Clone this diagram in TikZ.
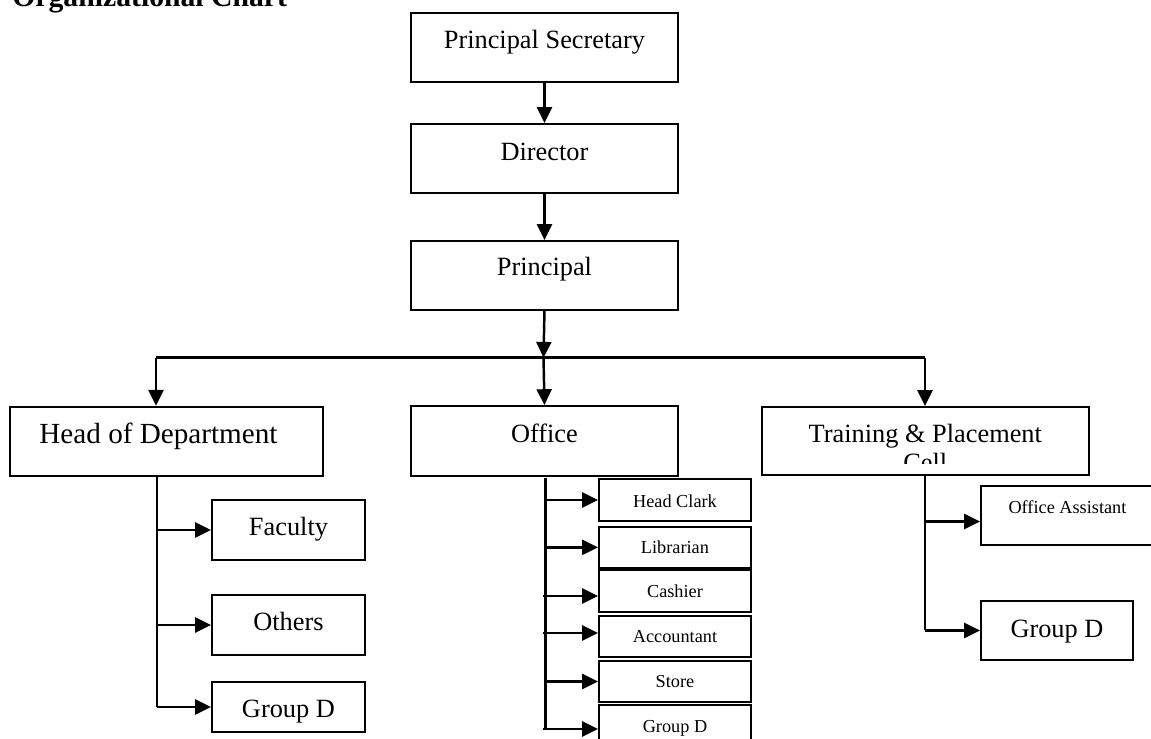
\documentclass[tikz,border=0pt]{standalone}
\usepackage{fontspec}
\setmainfont{Liberation Serif}
\usetikzlibrary{arrows.meta,calc}
\newdimen\px
\px=0.02cm
\tikzset{
  box/.style={draw, line width=1.1pt, rectangle, inner sep=0pt, anchor=north west},
  conn/.style={line width=1.4pt},
  arr/.style={conn, -{Triangle[length=9pt,width=8.5pt]}},
  bigtxt/.style={font=\fontsize{15}{18}\selectfont, anchor=base, inner sep=0pt},
  hugetxt/.style={font=\fontsize{16.6}{20}\selectfont, anchor=base, inner sep=0pt},
  smalltxt/.style={font=\fontsize{10.4}{12.5}\selectfont, anchor=base, inner sep=0pt}
}
\begin{document}
\begin{tikzpicture}[x=0.02cm,y=-0.02cm]
\useasboundingbox (0,0) rectangle (1151,738);
% title
\node[anchor=base west, inner sep=0pt, font=\bfseries\fontsize{16.9}{20}\selectfont] (title) at (12,6) {Organizational Chart};
% top chain
\node[box, minimum width=267\px, minimum height=69.3\px] (ps) at (410,11.7) {};
\path (ps.north) ++(0,36.5) node[bigtxt] (pst) {Principal Secretary};
\node[box, minimum width=267\px, minimum height=69\px] (dir) at (410,123) {};
\path (dir.north) ++(0,37) node[bigtxt] (dirt) {Director};
\node[box, minimum width=267\px, minimum height=69\px] (prin) at (410,240) {};
\path (prin.north) ++(0,35.5) node[bigtxt] (print) {Principal};
\draw[arr] (ps.south) -- (dir.north);
\draw[arr] (dir.south) -- (prin.north);
% distribution
\coordinate (j) at (543.5,357.7);
\coordinate (jl) at (156,357.7);
\coordinate (jr) at (925,357.7);
\draw[arr] (prin.south) -- (j);
\draw[conn] (jl) -- (jr);
% second level
\node[box, minimum width=313\px, minimum height=69.3\px] (hod) at (9,405.7) {};
\path (hod.north) ++(-8,37.5) node[hugetxt] (hodt) {Head of Department};
\node[box, minimum width=267\px, minimum height=70\px] (office) at (410,405) {};
\path (office.north) ++(0,37) node[bigtxt] (officet) {Office};
\node[box, minimum width=327.3\px, minimum height=68\px] (tp) at (760.7,406) {};
\begin{scope}
  \clip (760,406) rectangle (1089,463.3);
  \path (tp.north) ++(0,36.7) node[bigtxt] (tpt1) {Training \& Placement};
  \path (tp.north) ++(0,65) node[bigtxt] (tpt2) {Cell};
\end{scope}
\draw[arr] (jl) -- (jl |- hod.north);
\draw[arr] (j) -- (office.north);
\draw[arr] (jr) -- (jr |- tp.north);
% Head of Department branch
\coordinate (hx) at (157,475);
\node[box, minimum width=153\px, minimum height=60\px] (fac) at (211,499) {};
\path (fac.north) ++(0,36.7) node[bigtxt] (fact) {Faculty};
\node[box, minimum width=153\px, minimum height=60\px] (oth) at (211,594) {};
\path (oth.north) ++(0,36.7) node[bigtxt] (otht) {Others};
\node[box, minimum width=153\px, minimum height=50\px] (hgd) at (211,681) {};
\path (hgd.north) ++(0,36.7) node[bigtxt] (hgdt) {Group D};
\draw[conn] (hx) -- (hx |- hgd.west);
\draw[arr] (hx |- fac.west) -- (fac.west);
\draw[arr] (hx |- oth.west) -- (oth.west);
\draw[arr] (hx |- hgd.west) -- (hgd.west);
% Office branch
\coordinate (ox) at (545.7,478);
\node[box, minimum width=152\px, minimum height=42\px] (hc) at (598,478) {};
\path (hc.north) ++(0,29) node[smalltxt] (hct) {Head Clark};
\node[box, minimum width=152\px, minimum height=41.3\px] (lib) at (598,525.7) {};
\path (lib.north) ++(0,27.5) node[smalltxt] (libt) {Librarian};
\node[box, minimum width=152\px, minimum height=42\px] (cash) at (598,569) {};
\path (cash.north) ++(0,28) node[smalltxt] (casht) {Cashier};
\node[box, minimum width=152\px, minimum height=41\px] (acc) at (598,615) {};
\path (acc.north) ++(0,27.5) node[smalltxt] (acct) {Accountant};
\node[box, minimum width=152\px, minimum height=41\px] (store) at (598,660) {};
\path (store.north) ++(0,27.5) node[smalltxt] (storet) {Store};
\node[box, minimum width=152\px, minimum height=48\px] (ogd) at (598,704) {};
\path (ogd.north) ++(0,28) node[smalltxt] (ogdt) {Group D};
\draw[conn] (ox) -- (ox |- ogd.west);
\draw[arr] (ox |- hc.west) -- (hc.west);
\draw[arr] (ox |- lib.west) -- (lib.west);
\draw[arr] ([xshift=-3\px,yshift=-5\px]ox |- cash.west) -- ([yshift=-5\px]cash.west);
\draw[arr] ([xshift=-3\px,yshift=3.5\px]ox |- acc.west) -- ([yshift=3.5\px]acc.west);
\draw[arr] (ox |- store.west) -- (store.west);
\draw[arr] ([xshift=-3\px]ox |- ogd.west) -- (ogd.west);
% Training & Placement branch
\coordinate (tx) at (925,474);
\node[box, minimum width=173\px, minimum height=59\px] (oa) at (980,485) {};
\path (oa.north) ++(0,28) node[smalltxt] (oat) {Office Assistant};
\node[box, minimum width=152\px, minimum height=59\px] (tgd) at (980,600) {};
\path (tgd.north) ++(0,37) node[bigtxt] (tgdt) {Group D};
\draw[conn] (tx) -- (tx |- tgd.west);
\draw[arr] ([yshift=-6\px]tx |- oa.west) -- ([yshift=-6\px]oa.west);
\draw[arr] (tx |- tgd.west) -- (tgd.west);
\end{tikzpicture}
\end{document}
